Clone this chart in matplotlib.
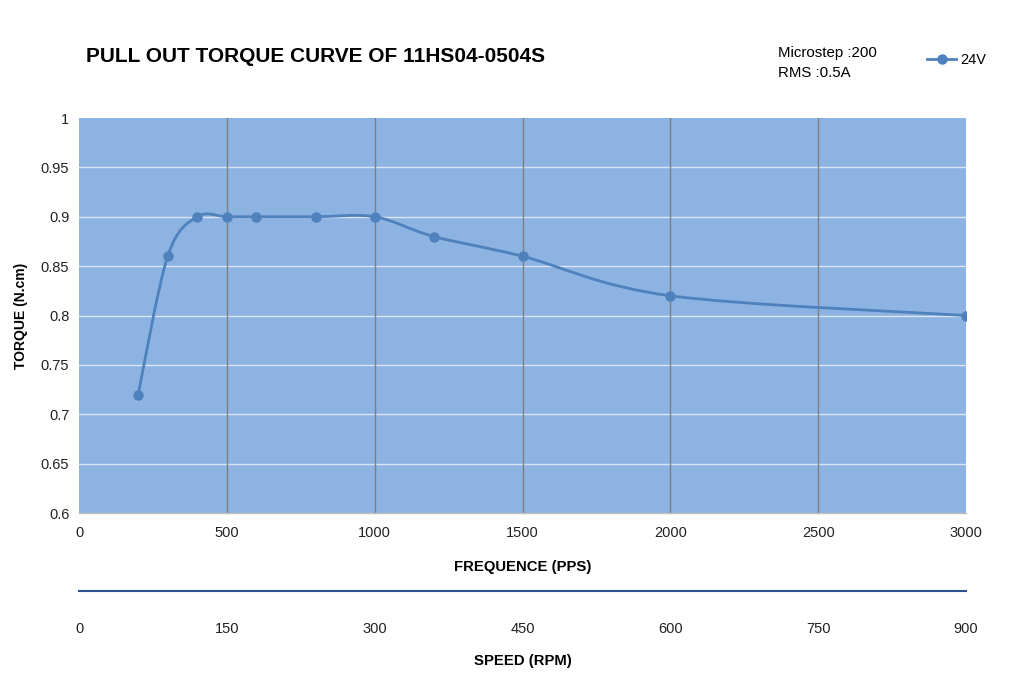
import matplotlib
matplotlib.use("Agg")
import matplotlib.pyplot as plt
from matplotlib.path import Path
from matplotlib.patches import PathPatch
from matplotlib.lines import Line2D

plt.rcParams['font.family'] = ['Liberation Sans', 'DejaVu Sans']

# Data
freq_pps = [200, 300, 400, 500, 600, 800, 1000, 1200, 1500, 2000, 3000]
torque_24v = [0.72, 0.86, 0.90, 0.90, 0.90, 0.90, 0.90, 0.88, 0.86, 0.82, 0.80]
freq_ticks = [0, 500, 1000, 1500, 2000, 2500, 3000]
rpm_ticks = [0, 150, 300, 450, 600, 750, 900]
y_ticks = [0.6, 0.65, 0.7, 0.75, 0.8, 0.85, 0.9, 0.95, 1.0]
y_tick_labels = ['0.6', '0.65', '0.7', '0.75', '0.8', '0.85', '0.9', '0.95', '1']

BG = '#8db3e2'
LINE = '#4f81bd'

fig = plt.figure(figsize=(10.24, 6.78), dpi=100)
W, H = 1024, 678
L, R, T, B = 79, 966, 118, 513
ax = fig.add_axes([L / W, 1 - B / H, (R - L) / W, (B - T) / H])
ax.set_facecolor(BG)
ax.set_xlim(0, 3000)
ax.set_ylim(0.6, 1.0)
ax.set_xticks(freq_ticks)
ax.set_yticks(y_ticks)
ax.set_yticklabels(y_tick_labels)
ax.tick_params(axis='both', length=0, labelsize=10.5, colors='#222222')
ax.tick_params(axis='x', pad=9.5)
ax.tick_params(axis='y', pad=7)
for s in ax.spines.values():
    s.set_visible(False)
ax.spines['bottom'].set_visible(True)
ax.spines['bottom'].set_color('#bfbfbf')
ax.spines['bottom'].set_linewidth(1.0)

# grid
for yv in y_ticks[1:-1]:
    ax.axhline(yv, color='#dce6f2', lw=1.0, zorder=1)
for xv in freq_ticks[1:-1]:
    ax.axvline(xv, color='#7f7f7f', lw=1.0, zorder=1)

# smoothed line (Catmull-Rom style Bezier through points)
n = len(freq_pps)
verts = [(freq_pps[0], torque_24v[0])]
codes = [Path.MOVETO]
for i in range(n - 1):
    x0, y0 = freq_pps[max(i - 1, 0)], torque_24v[max(i - 1, 0)]
    x1, y1 = freq_pps[i], torque_24v[i]
    x2, y2 = freq_pps[i + 1], torque_24v[i + 1]
    x3, y3 = freq_pps[min(i + 2, n - 1)], torque_24v[min(i + 2, n - 1)]
    c1 = (x1 + (x2 - x0) / 6.0, y1 + (y2 - y0) / 6.0)
    c2 = (x2 - (x3 - x1) / 6.0, y2 - (y3 - y1) / 6.0)
    verts += [c1, c2, (x2, y2)]
    codes += [Path.CURVE4] * 3
ax.add_patch(PathPatch(Path(verts, codes), facecolor='none', edgecolor=LINE,
                       lw=2.0, zorder=3))
ax.plot(freq_pps, torque_24v, 'o', color=LINE, ms=6.5, zorder=4)

ax.set_xlabel('FREQUENCE (PPS)', fontsize=10.7, fontweight='bold', labelpad=14)
ax.set_ylabel('TORQUE (N.cm)', fontsize=10, fontweight='bold', labelpad=9)

# secondary axis (speed)
ax2 = fig.add_axes([L / W, 1 - 591 / H, (R - L) / W, 0.0001])
ax2.set_xlim(0, 900)
ax2.set_xticks(rpm_ticks)
ax2.set_yticks([])
ax2.patch.set_visible(False)
for s in ax2.spines.values():
    s.set_visible(False)
ax2.spines['bottom'].set_visible(True)
ax2.spines['bottom'].set_color('#2f528f')
ax2.spines['bottom'].set_linewidth(1.5)
ax2.tick_params(axis='x', length=0, labelsize=10.5, pad=22, colors='#222222')
ax2.set_xlabel('SPEED (RPM)', fontsize=10.7, fontweight='bold', labelpad=13)

# title and notes
fig.text(86 / W, 1 - 57 / H, 'PULL OUT TORQUE CURVE OF 11HS04-0504S',
         fontsize=15, fontweight='bold', va='center', ha='left')
fig.text(778 / W, 1 - 53 / H, 'Microstep :200', fontsize=10.8, va='center', ha='left')
fig.text(778 / W, 1 - 73 / H, 'RMS :0.5A', fontsize=10.8, va='center', ha='left')

handle = Line2D([], [], color=LINE, lw=2, marker='o', ms=6.5)
fig.legend([handle], ['24V'], loc='center left', bbox_to_anchor=(914 / W, 1 - 60 / H),
           frameon=False, fontsize=10.5, handlelength=2.0, handletextpad=0.3)

fig.savefig('out.png', dpi=100)
